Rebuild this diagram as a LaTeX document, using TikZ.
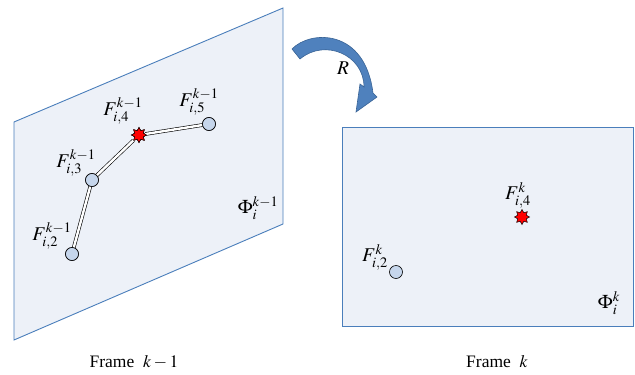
\documentclass[tikz,border=0pt]{standalone}
\usepackage{mathptmx}
\usepackage{fontspec}
\setmainfont{Liberation Serif}
\usetikzlibrary{shapes.geometric}
\definecolor{planefill}{HTML}{EDF1F8}
\definecolor{planeedge}{HTML}{4A7EBB}
\definecolor{ptfill}{HTML}{C6D6EC}
\definecolor{arrowfill}{HTML}{4F81BD}
\definecolor{arrowedge}{HTML}{3A6496}
\tikzset{
  plane/.style={fill=planefill,draw=planeedge,line width=0.9pt},
  pt/.style={circle,fill=ptfill,draw=black,line width=0.6pt,minimum size=13pt,inner sep=0pt},
  keypt/.style={star,star points=8,star point ratio=1.6,fill=red,draw=black,line width=0.5pt,minimum size=15pt,inner sep=0pt},
  link/.style={draw=black,line width=0.6pt,double=white,double distance=2.4pt},
  lbl/.style={inner sep=0pt,font=\fontsize{19.5}{22}\selectfont},
  captext/.style={inner sep=0pt,font=\fontsize{17.5}{20}\selectfont},
}
\begin{document}
\begin{tikzpicture}[x=1pt,y=-1pt]
\useasboundingbox (0,0) rectangle (635,375);
% planes
\draw[plane] (14,122) -- (283,8) -- (283,224) -- (14,340) -- cycle;
\draw[plane] (342,127) rectangle (633,326);
% left frame points
\node[pt] (a2) at (72,254) {};
\node[pt] (a3) at (92,180) {};
\node[keypt] (a4) at (139,135) {};
\node[pt] (a5) at (209,124) {};
\draw[link] (a2) -- (a3);
\draw[link] (a3) -- (a4);
\draw[link] (a4) -- (a5);
\node[pt] (a2b) at (72,254) {};
\node[pt] (a3b) at (92,180) {};
\node[keypt] (a4b) at (139,135) {};
\node[pt] (a5b) at (209,124) {};
% labels left
\node[lbl] (l2) at (52,236) {$F_{i,2}^{k-1}$};
\node[lbl] (l3) at (76,163) {$F_{i,3}^{k-1}$};
\node[lbl] (l4) at (123,111) {$F_{i,4}^{k-1}$};
\node[lbl] (l5) at (199,102) {$F_{i,5}^{k-1}$};
\node[lbl] (phi1) at (258,208) {$\Phi_i^{k-1}$};
% right frame points
\node[pt] (b2) at (396,272) {};
\node[keypt] (b4) at (522,217) {};
\node[lbl] (m2) at (375,257) {$F_{i,2}^{k}$};
\node[lbl] (m4) at (518,195) {$F_{i,4}^{k}$};
\node[lbl] (phi2) at (609,303) {$\Phi_i^{k}$};
% captions
\node[captext] (c1) at (134,362) {Frame\ \ $k-1$};
\node[captext] (c2) at (497,362) {Frame\ \ $k$};
% rotation arrow
\draw[fill=arrowfill,draw=arrowedge,line width=0.6pt]
  (292,49) .. controls (310,30) and (365,28) .. (373,93)
  -- (377,97) -- (356,112) -- (360,84) -- (364,87)
  .. controls (364,55) and (325,38) .. (300,59) -- cycle;
\node[lbl] (r) at (343,68) {$R$};
\end{tikzpicture}
\end{document}
